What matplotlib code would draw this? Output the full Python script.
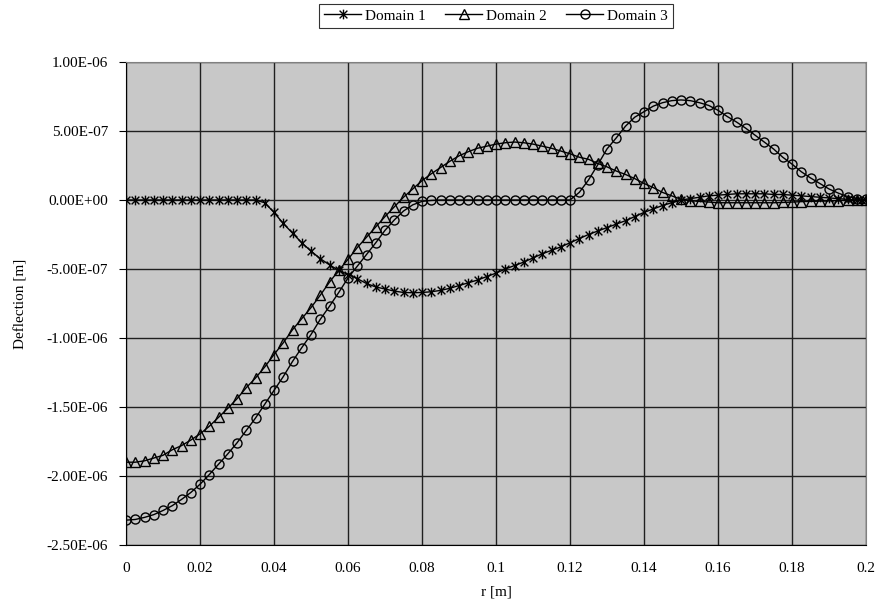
import matplotlib.pyplot as plt
from matplotlib.path import Path
from matplotlib.ticker import FuncFormatter, MultipleLocator

plt.rcParams['font.family'] = ['Liberation Serif', 'DejaVu Serif']
plt.rcParams['font.size'] = 11

r = [0.0, 0.0025, 0.005, 0.0075, 0.01, 0.0125, 0.015, 0.0175, 0.02, 0.0225,
     0.025, 0.0275, 0.03, 0.0325, 0.035, 0.0375, 0.04, 0.0425, 0.045, 0.0475,
     0.05, 0.0525, 0.055, 0.0575, 0.06, 0.0625, 0.065, 0.0675, 0.07, 0.0725,
     0.075, 0.0775, 0.08, 0.0825, 0.085, 0.0875, 0.09, 0.0925, 0.095, 0.0975,
     0.1, 0.1025, 0.105, 0.1075, 0.11, 0.1125, 0.115, 0.1175, 0.12, 0.1225,
     0.125, 0.1275, 0.13, 0.1325, 0.135, 0.1375, 0.14, 0.1425, 0.145, 0.1475,
     0.15, 0.1525, 0.155, 0.1575, 0.16, 0.1625, 0.165, 0.1675, 0.17, 0.1725,
     0.175, 0.1775, 0.18, 0.1825, 0.185, 0.1875, 0.19, 0.1925, 0.195, 0.1975,
     0.2]

# deflection in micrometres (x 1e-6 m)
domain1 = [0, 0, 0, 0, 0, 0, 0, 0, 0, 0,
           0, 0, 0, 0, 0, -0.02, -0.09, -0.17, -0.24, -0.31,
           -0.37, -0.425, -0.47, -0.51, -0.54, -0.57, -0.605, -0.63, -0.645, -0.66,
           -0.67, -0.672, -0.67, -0.665, -0.655, -0.64, -0.62, -0.60, -0.58, -0.555,
           -0.53, -0.50, -0.475, -0.45, -0.42, -0.39, -0.365, -0.34, -0.31, -0.28,
           -0.25, -0.225, -0.20, -0.175, -0.15, -0.12, -0.09, -0.065, -0.04, -0.02,
           0.0, 0.01, 0.02, 0.03, 0.035, 0.04, 0.045, 0.045, 0.045, 0.045,
           0.04, 0.04, 0.035, 0.03, 0.025, 0.02, 0.015, 0.01, 0.005, 0.0,
           0.0]
domain2 = [-1.90, -1.90, -1.89, -1.87, -1.85, -1.81, -1.78, -1.74, -1.695, -1.64,
           -1.575, -1.51, -1.44, -1.36, -1.29, -1.21, -1.12, -1.035, -0.94, -0.86,
           -0.78, -0.69, -0.595, -0.51, -0.43, -0.345, -0.27, -0.195, -0.12, -0.05,
           0.02, 0.08, 0.14, 0.19, 0.235, 0.28, 0.32, 0.35, 0.375, 0.39,
           0.405, 0.415, 0.42, 0.415, 0.405, 0.39, 0.375, 0.355, 0.335, 0.31,
           0.295, 0.265, 0.24, 0.21, 0.185, 0.155, 0.12, 0.09, 0.055, 0.03,
           0.005, -0.005, -0.01, -0.015, -0.02, -0.02, -0.02, -0.02, -0.02, -0.02,
           -0.02, -0.018, -0.015, -0.012, -0.01, -0.008, -0.006, -0.004, -0.002, -0.001,
           0.0]
domain3 = [-2.32, -2.315, -2.30, -2.28, -2.25, -2.215, -2.17, -2.12, -2.06, -1.99,
           -1.915, -1.84, -1.76, -1.67, -1.58, -1.48, -1.38, -1.28, -1.17, -1.07,
           -0.975, -0.865, -0.77, -0.67, -0.565, -0.48, -0.395, -0.31, -0.22, -0.145,
           -0.08, -0.035, -0.01, -0.003, 0, 0, 0, 0, 0, 0,
           0, 0, 0, 0, 0, 0, 0, 0, 0, 0.055,
           0.145, 0.255, 0.37, 0.45, 0.535, 0.60, 0.64, 0.68, 0.705, 0.72,
           0.725, 0.72, 0.705, 0.685, 0.65, 0.605, 0.565, 0.52, 0.47, 0.42,
           0.37, 0.31, 0.26, 0.205, 0.16, 0.12, 0.08, 0.05, 0.025, 0.01,
           0.005]

labels = ['Domain 1', 'Domain 2', 'Domain 3']

# Excel style asterisk: X with a vertical bar
star = Path([(-1, -1), (1, 1), (-1, 1), (1, -1), (0, -1.25), (0, 1.25)],
            [Path.MOVETO, Path.LINETO, Path.MOVETO, Path.LINETO, Path.MOVETO, Path.LINETO])

fig = plt.figure(figsize=(8.8, 6.02), dpi=100)
ax = fig.add_axes([126/880, 1 - 545/602, 740/880, 483/602])
ax.set_facecolor('#c8c8c8')

ax.plot(r, [v * 1e-6 for v in domain1], color='black', lw=1, marker=star,
        ms=7, mew=1, label=labels[0], zorder=3)
ax.plot(r, [v * 1e-6 for v in domain2], color='black', lw=1, marker='^',
        ms=7, mfc='none', mew=1, label=labels[1], zorder=3)
ax.plot(r, [v * 1e-6 for v in domain3], color='black', lw=1, marker='o',
        ms=6.5, mfc='none', mew=1, label=labels[2], zorder=3)

ax.set_xlim(0, 0.2)
ax.set_ylim(-2.5e-6, 1e-6)
ax.xaxis.set_major_locator(MultipleLocator(0.02))
ax.yaxis.set_major_locator(MultipleLocator(5e-7))
ax.xaxis.set_major_formatter(FuncFormatter(lambda v, p: f'{v:g}' if abs(v) > 1e-9 else '0'))
ax.yaxis.set_major_formatter(FuncFormatter(lambda v, p: f'{v:.2E}' if abs(v) > 1e-12 else '0.00E+00'))
ax.yaxis.get_offset_text().set_visible(False)
ax.grid(True, color='#202020', lw=1)
ax.set_axisbelow(True)
for s in ax.spines.values():
    s.set_color('#808080')
ax.spines['left'].set_color('black')
ax.spines['bottom'].set_color('black')
ax.tick_params(axis='y', direction='out', length=5, pad=8, labelsize=11)
ax.tick_params(axis='x', length=0, pad=12, labelsize=11)

ax.set_xlabel('r [m]', fontsize=11, labelpad=8)
ax.set_ylabel('Deflection [m]', fontsize=11, labelpad=14)

leg = ax.legend(loc='lower center', bbox_to_anchor=(0.5, 1 + 34/483), ncol=3,
                frameon=True, fancybox=False, borderaxespad=0, handlelength=2.4,
                handletextpad=0.25, columnspacing=1.3, borderpad=0.35, fontsize=11)
leg.get_frame().set_edgecolor('black')
leg.get_frame().set_linewidth(0.8)

fig.savefig('out.png', dpi=100)
